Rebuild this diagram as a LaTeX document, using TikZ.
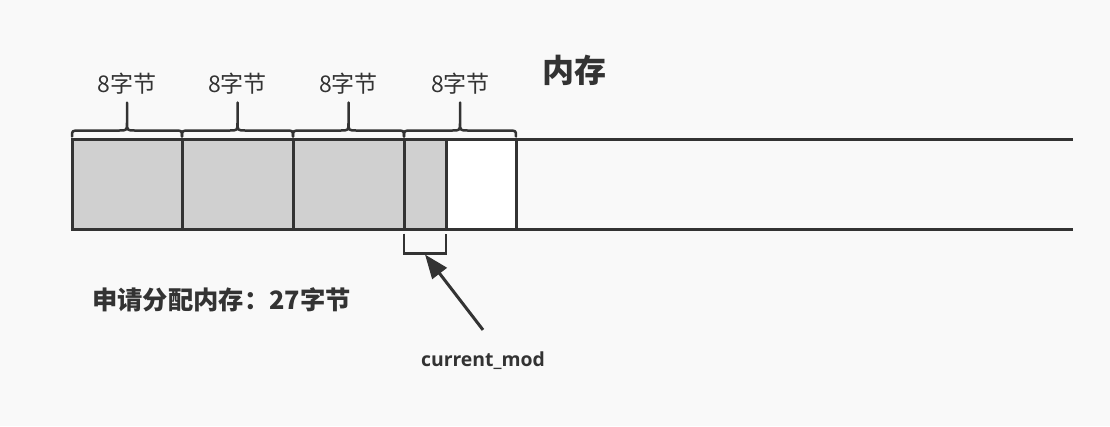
\documentclass[tikz,border=0pt]{standalone}
\usepackage{fontspec}
\setmainfont{Noto Sans CJK SC}
\newfontfamily\latinbold{Open Sans}
\usetikzlibrary{arrows.meta,calc}
\definecolor{ink}{HTML}{333333}
\definecolor{bg}{HTML}{F9F9F9}
\definecolor{cellgray}{HTML}{D0D0D0}
\tikzset{
  cellbox/.style={draw=ink, line width=3pt, minimum height=90pt, inner sep=0pt, outer sep=0pt},
  usedcell/.style={cellbox, fill=cellgray},
  freecell/.style={cellbox, fill=white},
  bracelabel/.style={text=ink, font=\fontsize{23}{27}\selectfont, inner sep=0pt},
  bracestyle/.style={draw=ink, line width=2.5pt, line cap=round, line join=round},
}
\newcommand{\membrace}[2]{% left node, right node
  \path (#1.north west) ++(0,9pt) coordinate (bl);
  \path (#2.north east) ++(0,9pt) coordinate (br);
  \draw[bracestyle] let \p1=(bl), \p2=(br), \n1={(\x1+\x2)/2} in
    (\x1,\y1-6pt) .. controls (\x1,\y1) .. (\x1+8pt,\y1) -- (\n1-8pt,\y1)
    .. controls (\n1,\y1) .. (\n1,\y1+8pt) -- (\n1,\y1+28pt)
    (\n1,\y1+8pt) .. controls (\n1,\y1) .. (\n1+8pt,\y1) -- (\x2-8pt,\y1)
    .. controls (\x2,\y1) .. (\x2,\y1-6pt);
}
\begin{document}
\begin{tikzpicture}[x=1pt,y=-1pt]
\useasboundingbox[fill=bg] (0,0) rectangle (1110,426);
% cells
\node[usedcell, minimum width=110pt] (c1) at (127,184.5) {};
\node[usedcell, minimum width=111pt] (c2) at (237.5,184.5) {};
\node[usedcell, minimum width=111pt] (c3) at (348.5,184.5) {};
\node[usedcell, minimum width=42pt] (c4) at (425,184.5) {};
\node[freecell, minimum width=70pt] (c5) at (481,184.5) {};
\coordinate (topend) at (1073,139.5);
\coordinate (botend) at (1073,229.5);
\draw[ink, line width=3pt] (c5.north east) -- (topend);
\draw[ink, line width=3pt] (c5.south east) -- (botend);
% braces
\membrace{c1}{c1}
\membrace{c2}{c2}
\membrace{c3}{c3}
\membrace{c4}{c5}
% brace labels
\node[bracelabel] (l1) at (127,84) {8字节};
\node[bracelabel] (l2) at (237.5,84) {8字节};
\node[bracelabel] (l3) at (348.5,84) {8字节};
\node[bracelabel] (l4) at (460.5,84) {8字节};
\node[text=ink, font=\fontsize{32}{38}\selectfont\bfseries, inner sep=0pt] (title) at (574,70) {内存};
% bottom bracket
\draw[ink, line width=2.5pt] ($(c4.south west)+(0,-4pt)$) -- ($(c4.south west)+(0,-24pt)$) coordinate (bkl)
  -- ($(c4.south east)+(0,-24pt)$) coordinate (bkr) -- ($(c4.south east)+(0,-4pt)$);
\coordinate (bkmid) at ($(bkl)!0.5!(bkr)+(0,-1pt)$);
\node[text=ink, font=\latinbold\fontsize{19.4}{23}\selectfont\bfseries, inner sep=0pt] (cm) at (483,361) {current\_mod};
\path (cm.north) ++(0,22pt) coordinate (tail);
\draw[ink, line width=3pt, -{Triangle[length=24pt,width=18pt]}] (tail) -- (bkmid);
\node[text=ink, font=\fontsize{25.3}{30}\selectfont\bfseries, inner sep=0pt, anchor=west] (req) at (92,300) {申请分配内存：27字节};
\end{tikzpicture}
\end{document}
